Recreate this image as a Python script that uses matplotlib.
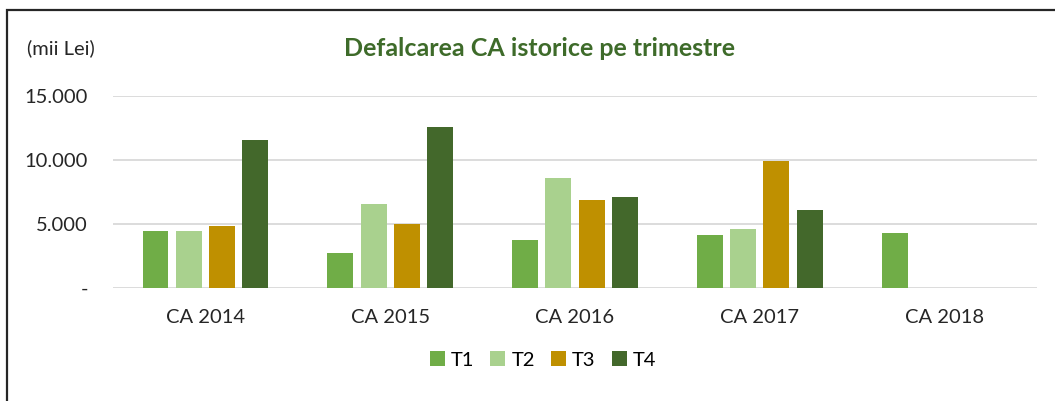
import matplotlib
matplotlib.use("Agg")
import matplotlib.pyplot as plt
import numpy as np
from matplotlib.patches import Rectangle

# data (mii Lei)
categories = ['CA 2014', 'CA 2015', 'CA 2016', 'CA 2017', 'CA 2018']
series = ['T1', 'T2', 'T3', 'T4']
T1 = [4470, 2710, 3750, 4140, 4300]
T2 = [4450, 6560, 8600, 4600, 0]
T3 = [4820, 5000, 6880, 9920, 0]
T4 = [11560, 12580, 7100, 6090, 0]
colors = ['#70AD47', '#A9D18E', '#BF9000', '#43682B']

plt.rcParams['font.family'] = ['Lato', 'DejaVu Sans']

fig = plt.figure(figsize=(10.55, 4.01), dpi=100)
ax = fig.add_axes([113 / 1055, 1 - 288 / 401, 924 / 1055, 192 / 401])

x = np.arange(len(categories))
width = 0.14
step = 0.18
for i, (vals, c, name) in enumerate(zip([T1, T2, T3, T4], colors, series)):
    ax.bar(x + (i - 1.5) * step, vals, width, color=c, label=name, zorder=3)

ax.set_xlim(-0.5, len(categories) - 0.5)
ax.set_ylim(0, 15000)
ax.set_yticks([0, 5000, 10000, 15000])
ax.set_yticklabels(['-', '5.000', '10.000', '15.000'])
ax.set_xticks(x)
ax.set_xticklabels(categories)
ax.tick_params(axis='both', length=0, labelsize=14.5, colors='#262626')
ax.tick_params(axis='y', pad=18)
ax.tick_params(axis='x', pad=15)
ax.grid(axis='y', color='#D9D9D9', linewidth=1.3, zorder=0)
for s in ax.spines.values():
    s.set_visible(False)

fig.text(540 / 1055, 1 - 48 / 401, 'Defalcarea CA istorice pe trimestre', ha='center', va='center',
         fontsize=18, fontweight='bold', color='#3E6B2A')
fig.text(27 / 1055, 1 - 48 / 401, '(mii Lei)', ha='left', va='center', fontsize=14.5, color='#262626')

fig.legend(loc='center', bbox_to_anchor=(543 / 1055, 1 - 360 / 401), ncol=4, frameon=False,
           fontsize=14.5, handlelength=0.75, handleheight=0.75, handletextpad=0.3, columnspacing=0.8)

# outer chart frame
fig.patches.append(Rectangle((7 / 1055, -0.1), 1.2, 1 - 10 / 401 + 0.1, transform=fig.transFigure,
                             fill=False, edgecolor='#262626', linewidth=1.6))

fig.savefig('out.png', dpi=100)
